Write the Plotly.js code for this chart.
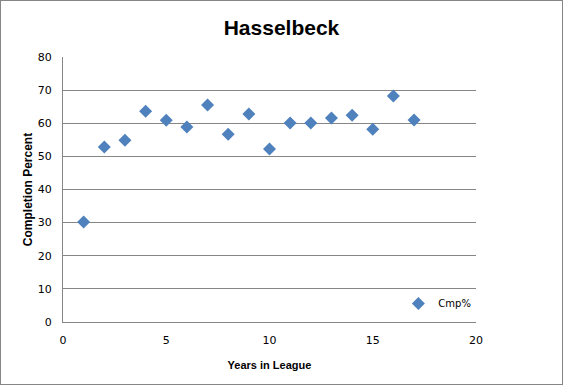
<!DOCTYPE html>
<html>
<head>
<meta charset="utf-8">
<script src="https://cdn.plot.ly/plotly-3.0.1.min.js"></script>
<style>
html,body{margin:0;padding:0;background:#fff;}
#frame{width:563px;height:385px;box-sizing:border-box;border:1px solid #868686;}
#chart{width:561px;height:383px;}
</style>
</head>
<body>
<div id="frame"><div id="chart"></div></div>
<script>
const years = [1,2,3,4,5,6,7,8,9,10,11,12,13,14,15,16,17];
const cmpPct = [30.2,52.8,54.9,63.6,60.9,58.9,65.5,56.7,62.8,52.2,60.1,60.1,61.6,62.4,58.2,68.2,61.0];
const seriesName = 'Cmp%';
const chartTitle = 'Hasselbeck';
const xTitle = 'Years in League';
const yTitle = 'Completion Percent';

const trace = {
  x: years, y: cmpPct, type: 'scatter', mode: 'markers', name: seriesName,
  marker: {symbol: 'diamond', color: '#4F81BD', size: 10, line: {width: 0}}
};
const layout = {
  width: 561, height: 383,
  margin: {l: 62, r: 86, t: 56, b: 62},
  paper_bgcolor: '#fff', plot_bgcolor: '#fff',
  showlegend: true,
  title: {text: chartTitle, font: {family: 'Liberation Sans, Arial', size: 21, color: '#000', weight: 'bold'}, x: 0.5, xanchor: 'center', y: 0.93, yanchor: 'middle'},
  xaxis: {
    range: [0, 20], dtick: 5, tick0: 0, showgrid: false, zeroline: false,
    showline: true, linecolor: '#868686', linewidth: 1,
    ticks: 'outside', ticklen: 8, tickcolor: 'rgba(0,0,0,0)', tickfont: {family: 'DejaVu Sans', size: 11, color: '#000'},
    title: {text: xTitle, font: {family: 'Liberation Sans, Arial', size: 11, color: '#000', weight: 'bold'}, standoff: 15}
  },
  yaxis: {
    range: [0, 80], dtick: 10, tick0: 0, showgrid: true, gridcolor: '#868686', gridwidth: 1, zeroline: false,
    showline: true, linecolor: '#868686', linewidth: 1,
    ticks: 'outside', ticklen: 8, tickcolor: 'rgba(0,0,0,0)', tickfont: {family: 'DejaVu Sans', size: 11, color: '#000'},
    title: {text: yTitle, font: {family: 'Liberation Sans, Arial', size: 12, color: '#000', weight: 'bold'}, standoff: 2}
  },
  legend: {x: 0.812, xanchor: 'left', y: 0.07, yanchor: 'middle', bgcolor: 'rgba(0,0,0,0)',
    font: {family: 'DejaVu Sans', size: 10, color: '#000'}, itemwidth: 30}
};
Plotly.newPlot('chart', [trace], layout, {displayModeBar: false, staticPlot: true});
</script>
</body>
</html>
